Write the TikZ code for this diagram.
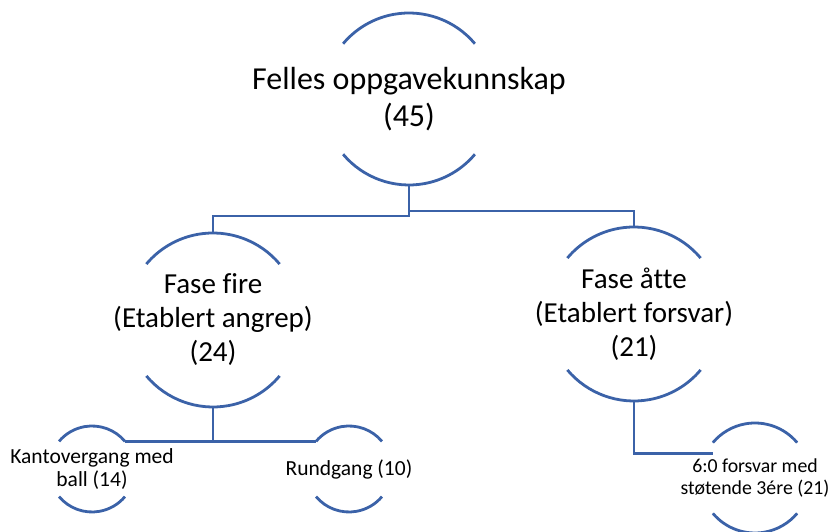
\documentclass[tikz,border=0pt]{standalone}
\usepackage{fontspec}
\setmainfont{Carlito}[Ligatures=NoCommon]
\usetikzlibrary{calc}

\definecolor{arcblue}{HTML}{3B62A8}

\tikzset{
  x=1pt, y=1pt,
  arcline/.style={draw=arcblue, line width=2.8pt},
  link/.style={draw=arcblue, line width=2.8pt},
  bigtext/.style={align=center, font=\fontsize{32}{37}\selectfont},
  midtext/.style={align=center, font=\fontsize{29}{34}\selectfont},
  smalltext/.style={align=center, font=\fontsize{21.5}{23}\selectfont},
  tinytext/.style={align=center, font=\fontsize{19.8}{22}\selectfont},
}

% draws the upper and lower arc of a hierarchy bubble
\newcommand{\bubble}[2]{%
  \draw[arcline] ($(#1)+(40:#2)$) arc (40:140:#2);
  \draw[arcline] ($(#1)+(220:#2)$) arc (220:320:#2);
}

\begin{document}
\begin{tikzpicture}
\useasboundingbox (0,0) rectangle (836,532);

% centres of the bubbles
\coordinate (top) at (409,433);
\coordinate (fire) at (213,212);
\coordinate (atte) at (634,218);
\coordinate (kanto) at (92,63);
\coordinate (rund) at (349,63);
\coordinate (forsvar) at (755,54);

\bubble{top}{86}
\bubble{fire}{87}
\bubble{atte}{87}
\bubble{kanto}{43}
\bubble{rund}{43}
\bubble{forsvar}{55}

\node[bigtext] (topt) at (top) {Felles oppgavekunnskap\\(45)};
\node[midtext] (firet) at (fire) {Fase fire\\(Etablert angrep)\\(24)};
\node[midtext] (attet) at (atte) {Fase åtte\\(Etablert forsvar)\\(21)};
\node[smalltext] (kantot) at (kanto) {Kantovergang med\\ball (14)};
\node[smalltext] (rundt) at (rund) {Rundgang (10)};
\node[tinytext] (forsvart) at (forsvar) {6:0 forsvar med\\støtende 3ére (21)};

% tree connectors
\coordinate (topb) at ($(top)+(0,-86)$);
\coordinate (fireTop) at ($(fire)+(0,87)$);
\coordinate (atteTop) at ($(atte)+(0,87)$);
\coordinate (fireBot) at ($(fire)+(0,-87)$);
\coordinate (atteBot) at ($(atte)+(0,-87)$);
\coordinate (kantoR) at ($(kanto)+(40:43)$);
\coordinate (rundL) at ($(rund)+(140:43)$);
\coordinate (forsvarL) at ($(forsvar)+(140:55)$);

\draw[link] (topb) -- ($(topb)+(0,-31)$) -| (fireTop);
\draw[link] ($(topb)+(0,-26)$) -| (atteTop);
\draw[link] (fireBot) -- (fireBot |- kantoR);
\draw[link] (kantoR) -- (rundL);
\draw[link] (atteBot) |- ($(forsvarL)+(0,-11)$);
\end{tikzpicture}
\end{document}
